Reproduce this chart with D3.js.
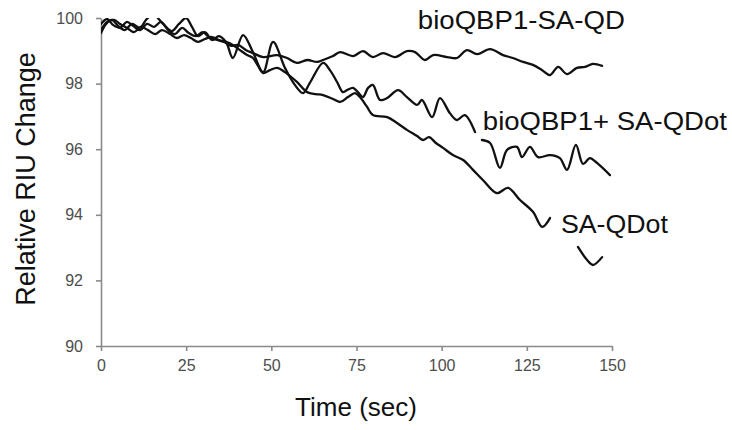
<!DOCTYPE html>
<html>
<head>
<meta charset="utf-8">
<script src="https://cdn.jsdelivr.net/npm/d3@7"></script>
<style>
  html, body { margin: 0; padding: 0; background: #fff; }
  svg { display: block; font-family: "Liberation Sans", Arial, sans-serif; }
</style>
</head>
<body>
<svg id="chart" width="732" height="430"></svg>
<script>
// ---- data (time in sec, relative RIU change in %) ----
const xTicks = [0, 25, 50, 75, 100, 125, 150];
const yTicks = [90, 92, 94, 96, 98, 100];
const seriesNames = ["bioQBP1-SA-QD", "bioQBP1+ SA-QDot", "SA-QDot"];

const bioQBP1SAQD = [
  [0,99.82],[1.8,99.97],[3.5,99.79],[5.6,99.70],[7.6,99.88],[9.4,99.76],[11.5,99.63],[13.5,99.82],
  [15.6,99.73],[17.6,99.88],[19.7,99.63],[21.7,99.51],[23.8,99.70],[25.8,99.54],[27.9,99.45],
  [29.9,99.57],[32,99.39],[34.1,99.33],[36.1,99.27],[38.2,99.15],[40.2,99.18],[42.6,99.02],
  [44.6,98.93],[47.6,98.81],[51.7,98.87],[54.6,98.78],[57.5,98.63],[60.5,98.72],[63.4,98.66],
  [65.2,98.72],[68.1,98.84],[70.2,98.96],[74,98.84],[76.9,98.99],[79.8,98.81],[82.8,98.93],
  [86.3,98.81],[89.8,98.99],[92.2,98.96],[95.1,98.72],[97.5,98.87],[101.6,98.81],[104.5,98.78],
  [107.4,99.02],[110.4,98.90],[114.2,99.05],[118,98.87],[120.9,98.78],[123.9,98.66],[126.8,98.57],
  [129.5,98.41],[131.8,98.26],[134.2,98.51],[136.8,98.29],[139.7,98.48],[142.1,98.51],[144.4,98.60],
  [147.1,98.54]
];

const bioQBP1plusSAQDot = [
  [0,99.54],[1.5,99.82],[3.2,99.94],[5.0,99.76],[7.0,99.63],[9.1,99.82],[11.4,99.70],[13.2,99.94],
  [14.4,100.06],[15.9,100.12],[16.7,100.0],[18.8,99.76],[20.8,99.60],[22.9,99.82],[25.0,100.0],
  [26.7,99.73],[28.5,99.45],[30.5,99.57],[32.6,99.33],[34.6,99.45],[36.7,99.27],[38.7,98.78],
  [41.7,99.48],[44.6,98.96],[47.6,98.35],[50.5,99.27],[54.0,98.48],[56.9,97.96],[59.3,97.71],
  [61.3,98.02],[65.2,98.63],[67.2,98.41],[69.3,98.05],[71.0,97.74],[72.2,97.80],[74.0,97.87],
  [75.4,97.74],[76.9,97.59],[78.4,97.87],[79.8,97.96],[81.9,97.50],[84.0,97.56],[87.2,97.80],
  [89.8,97.59],[92.8,97.35],[94.2,97.50],[97.2,96.98],[99.5,97.56],[102.4,97.10],[104.5,96.89],
  [106.8,97.04],[109.8,96.52],[110.8,null],
  [111.8,96.28],[114.2,96.19],[117.1,95.43],[119.2,95.98],[122.1,96.07],[123.6,95.76],[125.9,96.07],
  [128.3,95.76],[131.8,95.82],[134.7,95.73],[136.8,95.37],[139.4,96.13],[141.5,95.55],[143.5,95.73],
  [145.6,95.58],[149.4,95.21]
];

const SAQDot = [
  [0,99.63],[1.8,99.88],[3.8,99.94],[5.6,99.82],[7.6,99.70],[9.7,99.57],[11.7,99.73],[13.8,99.63],
  [15.9,99.51],[17.9,99.63],[20.3,99.51],[22.3,99.39],[24.4,99.48],[26.4,99.39],[28.5,99.27],
  [30.5,99.36],[32.6,99.42],[34.6,99.33],[36.7,99.27],[38.7,99.18],[40.8,99.02],[42.9,98.87],
  [44.6,98.78],[46.1,98.54],[47.6,98.32],[49.6,98.41],[51.7,98.48],[54.0,98.35],[57.5,98.05],
  [60.5,97.74],[63.1,97.68],[65.2,97.65],[68.1,97.53],[70.2,97.44],[72.5,97.59],[74.6,97.71],
  [76.0,97.59],[78.1,97.29],[79.8,97.04],[84.0,96.98],[86.9,96.80],[89.8,96.59],[92.8,96.40],
  [94.5,96.28],[96.3,96.37],[98.3,96.19],[100.4,96.04],[103.3,95.82],[106.3,95.67],[109.2,95.37],
  [112.1,95.06],[116.2,94.66],[119.5,94.82],[123.0,94.45],[126.8,94.09],[129.5,93.63],[131.8,93.90],
  [135,null],
  [140.0,93.02],[142.7,92.62],[144.4,92.47],[147.1,92.71]
];

// ---- layout ----
const svg = d3.select("#chart");
const mLeft = 101, mRight = 612, mTop = 18, mBottom = 346;

const x = d3.scaleLinear().domain([0, 150]).range([mLeft, mRight]);
const y = d3.scaleLinear().domain([90, 100]).range([mBottom, mTop]);

svg.append("defs").append("clipPath").attr("id", "plotclip")
  .append("rect").attr("x", mLeft).attr("y", mTop).attr("width", mRight - mLeft + 2).attr("height", mBottom - mTop);

const axisColor = "#8a8a8a";
const tickTextColor = "#4d4d4d";

// x axis
const gx = svg.append("g").attr("transform", `translate(0,${mBottom})`)
  .call(d3.axisBottom(x).tickValues(xTicks).tickSize(5).tickPadding(9).tickSizeOuter(0));
// y axis
const gy = svg.append("g").attr("transform", `translate(${mLeft},0)`)
  .call(d3.axisLeft(y).tickValues(yTicks).tickSize(5).tickPadding(13).tickSizeOuter(0));

[gx, gy].forEach(g => {
  g.select(".domain").attr("stroke", axisColor).attr("stroke-width", 1.6);
  g.selectAll(".tick line").attr("stroke", axisColor).attr("stroke-width", 1.6);
  g.selectAll(".tick text").attr("fill", tickTextColor)
    .style("font-size", "16px").style("font-family", "'Liberation Sans', Arial, sans-serif");
});

// lines
const line = d3.line()
  .defined(d => d[1] !== null)
  .x(d => x(d[0])).y(d => y(d[1]))
  .curve(d3.curveCatmullRom.alpha(0.5));

const gl = svg.append("g").attr("clip-path", "url(#plotclip)");
[bioQBP1SAQD, bioQBP1plusSAQDot, SAQDot].forEach(s => {
  gl.append("path").datum(s).attr("d", line)
    .attr("fill", "none").attr("stroke", "#111").attr("stroke-width", 2.3)
    .attr("stroke-linejoin", "round").attr("stroke-linecap", "round");
});

// series labels
const labelPos = [
  { t: 93.0, v: 99.65, w: 207 },
  { t: 112.1, v: 96.6, w: 244 },
  { t: 135.0, v: 93.45, w: 107 }
];
seriesNames.forEach((name, i) => {
  svg.append("text")
    .attr("x", x(labelPos[i].t)).attr("y", y(labelPos[i].v))
    .attr("text-anchor", "start")
    .attr("textLength", labelPos[i].w).attr("lengthAdjust", "spacingAndGlyphs")
    .attr("fill", "#111").style("font-size", "25px")
    .text(name);
});

// axis titles
svg.append("text").attr("x", 356).attr("y", 416)
  .attr("text-anchor", "middle").attr("fill", "#111").style("font-size", "26px")
  .text("Time (sec)");
svg.append("text").attr("transform", "translate(35,179) rotate(-90)")
  .attr("text-anchor", "middle").attr("fill", "#111").style("font-size", "27px")
  .text("Relative RIU Change");
</script>
</body>
</html>
